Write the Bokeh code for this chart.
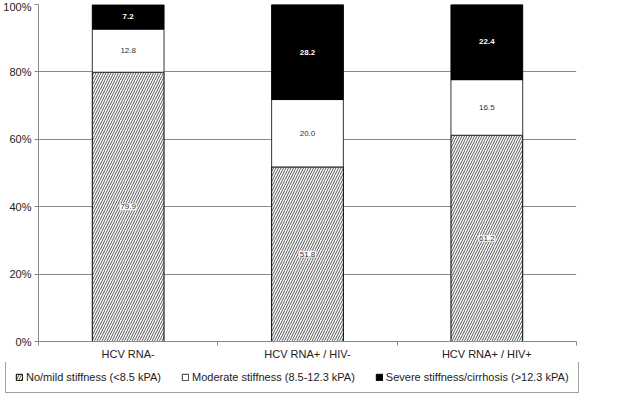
import numpy as np
from bokeh.plotting import figure
from bokeh.layouts import column
from bokeh.models import (Range1d, FixedTicker, PrintfTickFormatter, Legend,
                          LegendItem, ColumnDataSource)
from bokeh.core.properties import value
from bokeh.embed import file_html
from bokeh.resources import INLINE

categories = ["HCV RNA-", "HCV RNA+ / HIV-", "HCV RNA+ / HIV+"]
mild = [79.9, 51.8, 61.2]
moderate = [12.8, 20.0, 16.5]
severe = [7.2, 28.2, 22.4]
series_names = ["No/mild stiffness (<8.5 kPA)",
                "Moderate stiffness (8.5-12.3 kPA)",
                "Severe stiffness/cirrhosis (>12.3 kPA)"]
y_ticks = [0, 20, 40, 60, 80, 100]

FONT = "Liberation Sans"
xs = [i + 0.5 for i in range(len(categories))]

p1 = figure(width=624, height=362, x_range=Range1d(0, len(categories)),
            y_range=Range1d(0, 100), output_backend="svg", toolbar_location=None,
            min_border_left=0, min_border_right=48, min_border_top=4,
            min_border_bottom=20, background_fill_color="white",
            border_fill_color="white")
p1.frame_align = False
p1.outline_line_color = None
p1.xgrid.grid_line_color = None
p1.ygrid.grid_line_color = "#8a8a8a"
p1.ygrid.grid_line_width = 1

# axes
p1.yaxis.ticker = FixedTicker(ticks=y_ticks)
p1.yaxis.formatter = PrintfTickFormatter(format="%d%%")
p1.yaxis.major_tick_out = 4
p1.yaxis.major_tick_in = 0
p1.yaxis.minor_tick_line_color = None
p1.yaxis.axis_line_color = "#8a8a8a"
p1.yaxis.major_tick_line_color = "#8a8a8a"
p1.yaxis.major_label_standoff = 3

p1.xaxis.ticker = FixedTicker(ticks=xs, minor_ticks=list(range(len(categories) + 1)))
p1.xaxis.major_label_overrides = {x: c for x, c in zip(xs, categories)}
p1.xaxis.major_tick_line_color = None
p1.xaxis.major_tick_out = 0
p1.xaxis.major_tick_in = 0
p1.xaxis.minor_tick_out = 4
p1.xaxis.minor_tick_in = 0
p1.xaxis.minor_tick_line_color = "#8a8a8a"
p1.xaxis.axis_line_color = "#8a8a8a"
p1.xaxis.major_label_standoff = 2

for ax in (p1.xaxis[0], p1.yaxis[0]):
    ax.major_label_text_font = FONT
    ax.major_label_text_font_size = "11px"
    ax.major_label_text_color = "#222222"

# stacked segments
b0 = np.zeros(len(categories))
t0 = b0 + np.array(mild)
t1 = t0 + np.array(moderate)
t2 = t1 + np.array(severe)

src = ColumnDataSource(dict(x=xs, b0=b0, t0=t0, t1=t1, t2=t2,
                            m0=(b0 + t0) / 2, m1=(t0 + t1) / 2, m2=(t1 + t2) / 2,
                            l0=["%.1f" % v for v in mild],
                            l1=["%.1f" % v for v in moderate],
                            l2=["%.1f" % v for v in severe]))

hatch = dict(fill_color="white", line_color="black", line_width=1,
             hatch_pattern="right_diagonal_line", hatch_scale=5, hatch_weight=1,
             hatch_color="#555555")
mod_style = dict(fill_color="white", line_color="#333333", line_width=1)
sev_style = dict(fill_color="black", line_color="black", line_width=1)

p1.vbar(x="x", bottom="b0", top="t0", width=0.4, source=src, **hatch)
p1.vbar(x="x", bottom="t0", top="t1", width=0.4, source=src, **mod_style)
p1.vbar(x="x", bottom="t1", top="t2", width=0.4, source=src, **sev_style)

common = dict(source=src, text_align="center", text_baseline="middle",
              text_font=value(FONT), text_font_size=value("8px"))
p1.text(x="x", y="m0", text="l0", text_color="#333333",
        background_fill_color="white", border_line_color="#bbbbbb",
        border_line_dash="1 1", padding=1, **common)
p1.text(x="x", y="m1", text="l1", text_color="#333333", **common)
p1.text(x="x", y="m2", text="l2", text_color="white",
        text_font_style="bold", **common)

# legend strip (bars from the same data, outside the visible range)
p2 = figure(width=624, height=32, x_range=Range1d(-10, -9), y_range=Range1d(0, 100),
            output_backend="svg", toolbar_location=None, min_border=0,
            min_border_left=4, x_axis_location=None, y_axis_location=None,
            background_fill_color="white", border_fill_color="white")
p2.frame_align = False
p2.grid.visible = False
p2.outline_line_color = None
g0 = p2.vbar(x="x", bottom="b0", top="t0", width=0.4, source=src, **hatch)
g1 = p2.vbar(x="x", bottom="t0", top="t1", width=0.4, source=src, **mod_style)
g2 = p2.vbar(x="x", bottom="t1", top="t2", width=0.4, source=src, **sev_style)

legend = Legend(items=[LegendItem(label=series_names[0], renderers=[g0]),
                       LegendItem(label=series_names[1], renderers=[g1]),
                       LegendItem(label=series_names[2], renderers=[g2])],
                orientation="horizontal", location="bottom_left",
                label_text_font=FONT, label_text_font_size="11px",
                label_text_color="#222222", glyph_width=8, glyph_height=8,
                label_standoff=3, spacing=20, padding=9, margin=1,
                border_line_color="#444444", border_line_width=1,
                background_fill_color="white", background_fill_alpha=1)
p2.add_layout(legend)

page = column(p1, p2, spacing=0)
open("out.html", "w").write(file_html(page, INLINE))
